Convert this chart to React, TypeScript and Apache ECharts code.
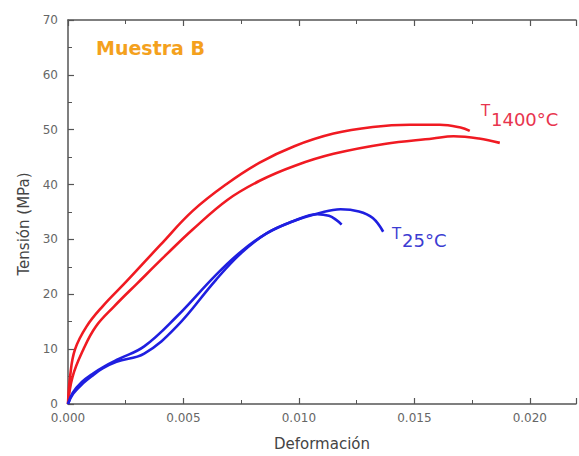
import React, { useEffect, useRef } from "react";
import * as echarts from "echarts";

// Red curves (T = 1400 °C)
const red1X = [0, 0.00009, 0.0003, 0.0008, 0.0015, 0.0025, 0.004, 0.0054, 0.0069, 0.0083, 0.0098, 0.0115, 0.0132, 0.0148, 0.0161, 0.017, 0.0174];
const red1Y = [0, 5, 9.9, 14.1, 17.8, 22.2, 29.0, 35.2, 40.2, 44.0, 47.0, 49.3, 50.5, 50.9, 50.9, 50.4, 49.8];
const red2X = [0, 0.0002, 0.00066, 0.0012, 0.002, 0.003, 0.0043, 0.0054, 0.0069, 0.0083, 0.0098, 0.0115, 0.0137, 0.0158, 0.0167, 0.0178, 0.0187];
const red2Y = [0, 5, 9.9, 14.1, 17.8, 22, 27.4, 31.8, 37.2, 40.7, 43.4, 45.6, 47.4, 48.4, 48.8, 48.4, 47.6];

// Blue curves (T = 25 °C)
const blue1X = [0, 0.00023, 0.00066, 0.0011, 0.0015, 0.0021, 0.0033, 0.0047, 0.0064, 0.0075, 0.0086, 0.00975, 0.0109, 0.0118, 0.0126, 0.0132, 0.01365];
const blue1Y = [0, 1.9, 3.8, 5.3, 6.5, 7.7, 9.2, 14.1, 22.6, 27.5, 31.1, 33.3, 34.8, 35.5, 35.1, 33.9, 31.4];
const blue2X = [0, 0.0002, 0.0006, 0.0011, 0.0016, 0.0022, 0.0033, 0.0047, 0.0064, 0.0075, 0.0086, 0.0098, 0.0108, 0.0113, 0.0116, 0.01185];
const blue2Y = [0, 2, 4, 5.6, 6.9, 8.2, 10.5, 15.9, 23.5, 27.8, 31.1, 33.4, 34.6, 34.3, 33.6, 32.7];

const xTicks = ["0.000", "0.005", "0.010", "0.015", "0.020"];
const yTicks = ["0", "10", "20", "30", "40", "50", "60", "70"];

const zip = (xs: number[], ys: number[]) => xs.map((x, i) => [x, ys[i]]);

const RED = "#f01a22";
const BLUE = "#1f1fe0";
const AXIS = "#555";

export default function App() {
  const ref = useRef<HTMLDivElement>(null);
  useEffect(() => {
    if (!ref.current) return;
    const chart = echarts.init(ref.current, undefined, { renderer: "svg" });
    const xFmt = (v: number) => {
      const s = v.toFixed(3);
      return xTicks.includes(s) && Math.abs(v * 1000 - Math.round(v * 200) * 5) < 1e-6 ? s : "";
    };
    const yFmt = (v: number) => (yTicks.includes(String(Math.round(v))) ? String(Math.round(v)) : "");
    const common = {
      type: "value" as const,
      min: 0,
      max: 0.022,
      interval: 0.005,
      splitLine: { show: false },
      axisLine: { lineStyle: { color: AXIS, width: 1.5 } },
      axisTick: { inside: true, length: 6, lineStyle: { color: AXIS, width: 1.2 } },
      minorTick: { show: true, splitNumber: 2, length: 4, lineStyle: { color: AXIS, width: 1 } },
    };
    const lineSeries = (data: number[][], color: string) => ({
      type: "line",
      data,
      showSymbol: false,
      smooth: 0.4,
      lineStyle: { color, width: 2.6 },
      xAxisIndex: 0,
      yAxisIndex: 0,
    });
    chart.setOption({
      animation: false,
      backgroundColor: "#fff",
      grid: { left: 68, right: 3, top: 20, bottom: 52 },
      xAxis: [
        {
          ...common,
          position: "bottom",
          name: "Deformación",
          nameLocation: "middle",
          nameGap: 32,
          nameTextStyle: { fontFamily: "DejaVu Sans", fontSize: 15, color: "#444" },
          axisLabel: { formatter: xFmt, fontFamily: "DejaVu Sans", fontSize: 12, color: "#666", margin: 8 },
        },
        {
          ...common,
          position: "top",
          axisLabel: { show: false },
        },
      ],
      yAxis: [
        {
          type: "value",
          min: 0,
          max: 70,
          interval: 10,
          position: "left",
          splitLine: { show: false },
          axisLine: { show: true, lineStyle: { color: AXIS, width: 1.5 } },
          axisTick: { show: true, inside: true, length: 6, lineStyle: { color: AXIS, width: 1.2 } },
          minorTick: { show: true, splitNumber: 2, length: 4, lineStyle: { color: AXIS, width: 1 } },
          axisLabel: { formatter: yFmt, fontFamily: "DejaVu Sans", fontSize: 12, color: "#666", margin: 10 },
          name: "Tensión (MPa)",
          nameLocation: "middle",
          nameGap: 36,
          nameTextStyle: { fontFamily: "DejaVu Sans", fontSize: 15, color: "#444", padding: [0, 24, 0, 0] },
        },
      ],
      series: [
        lineSeries(zip(red1X, red1Y), RED),
        lineSeries(zip(red2X, red2Y), RED),
        lineSeries(zip(blue1X, blue1Y), BLUE),
        lineSeries(zip(blue2X, blue2Y), BLUE),
      ],
      graphic: [
        {
          type: "text",
          left: 96,
          top: 38,
          style: { text: "Muestra B", font: "bold 19px 'DejaVu Sans'", fill: "#f4a11d" },
        },
        {
          type: "text",
          left: 481,
          top: 103,
          style: { text: "T", font: "15px 'DejaVu Sans'", fill: "#e8344e" },
        },
        {
          type: "text",
          left: 491,
          top: 110,
          style: { text: "1400°C", font: "18px 'DejaVu Sans'", fill: "#e8344e" },
        },
        {
          type: "text",
          left: 392,
          top: 226,
          style: { text: "T", font: "15px 'DejaVu Sans'", fill: "#3c3cd2" },
        },
        {
          type: "text",
          left: 402,
          top: 231,
          style: { text: "25°C", font: "18px 'DejaVu Sans'", fill: "#3c3cd2" },
        },
      ],
    });
    return () => chart.dispose();
  }, []);
  return (
    <div
      ref={ref}
      style={{ position: "absolute", left: 0, top: 0, width: 579, height: 456 }}
    />
  );
}
